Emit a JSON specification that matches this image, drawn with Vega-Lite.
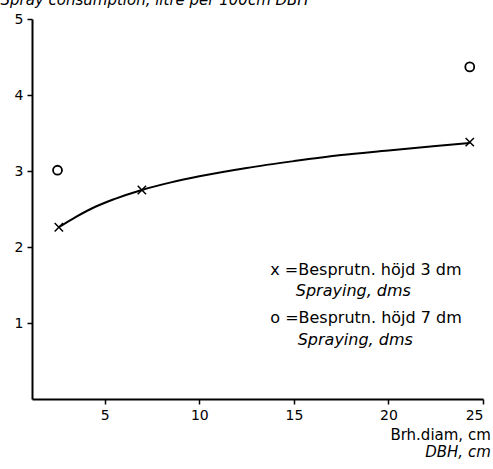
{
  "$schema": "https://vega.github.io/schema/vega-lite/v6.json",
  "width": 451,
  "height": 380,
  "autosize": "none",
  "padding": {"left": 32, "top": 19, "right": 10, "bottom": 70},
  "background": "white",
  "config": {
    "view": {"stroke": null},
    "font": "DejaVu Sans",
    "axis": {"domainColor": "black", "domainWidth": 2, "tickColor": "black", "tickWidth": 1.5, "labelColor": "black", "labelFontSize": 14, "labelFont": "DejaVu Sans", "grid": false}
  },
  "title": {
    "text": "Brh.diam, cm",
    "subtitle": "DBH, cm",
    "orient": "bottom",
    "anchor": "end",
    "dx": 7,
    "offset": 6,
    "fontSize": 15,
    "fontWeight": "normal",
    "color": "black",
    "subtitleFontSize": 15,
    "subtitleFontStyle": "italic",
    "subtitleColor": "black",
    "subtitlePadding": 2
  },
  "datasets": {
    "points": [
      {"dbh": 2.57, "consumption": 2.26, "height": "3 dm"},
      {"dbh": 6.96, "consumption": 2.75, "height": "3 dm"},
      {"dbh": 24.3, "consumption": 3.38, "height": "3 dm"},
      {"dbh": 2.5, "consumption": 3.01, "height": "7 dm"},
      {"dbh": 24.3, "consumption": 4.37, "height": "7 dm"}
    ],
    "curve": [
      {"dbh": 2.57, "consumption": 2.26},
      {"dbh": 3.5, "consumption": 2.4},
      {"dbh": 4.5, "consumption": 2.53},
      {"dbh": 5.5, "consumption": 2.63},
      {"dbh": 6.96, "consumption": 2.75},
      {"dbh": 8.5, "consumption": 2.85},
      {"dbh": 10, "consumption": 2.93},
      {"dbh": 12.5, "consumption": 3.04},
      {"dbh": 15, "consumption": 3.13},
      {"dbh": 17.5, "consumption": 3.21},
      {"dbh": 20, "consumption": 3.27},
      {"dbh": 22.5, "consumption": 3.33},
      {"dbh": 24.3, "consumption": 3.37}
    ],
    "legendMain": [
      {"dbh": 13.75, "consumption": 1.7, "label": "x =Besprutn. höjd  3 dm"},
      {"dbh": 13.75, "consumption": 1.07, "label": "o =Besprutn. höjd  7 dm"}
    ],
    "legendSub": [
      {"dbh": 15.1, "consumption": 1.42, "label": "Spraying,  dms"},
      {"dbh": 15.2, "consumption": 0.78, "label": "Spraying,  dms"}
    ]
  },
  "encoding": {
    "x": {
      "field": "dbh", "type": "quantitative",
      "scale": {"domain": [1.15, 25], "nice": false, "zero": false},
      "axis": {"values": [5, 10, 15, 20, 25], "title": null, "tickSize": 5, "labelPadding": 4}
    },
    "y": {
      "field": "consumption", "type": "quantitative",
      "scale": {"domain": [0, 5], "nice": false},
      "axis": {
        "values": [1, 2, 3, 4, 5], "tickSize": 5, "labelPadding": 4,
        "title": "Spray consumption, litre per 100cm DBH",
        "titleAngle": 0, "titleAlign": "left", "titleBaseline": "alphabetic",
        "titleX": -32, "titleY": -15, "titleFontSize": 15, "titleFontWeight": "normal",
        "titleFontStyle": "italic", "titleColor": "black", "titleFont": "DejaVu Sans"
      }
    }
  },
  "layer": [
    {
      "data": {"name": "curve"},
      "mark": {"type": "line", "color": "black", "strokeWidth": 2, "interpolate": "monotone"}
    },
    {
      "data": {"name": "points"},
      "transform": [{"filter": "datum.height === '3 dm'"}],
      "mark": {"type": "point", "shape": "M-1,-1L1,1M1,-1L-1,1", "size": 70, "color": "black", "strokeWidth": 1.5, "opacity": 1}
    },
    {
      "data": {"name": "points"},
      "transform": [{"filter": "datum.height === '7 dm'"}],
      "mark": {"type": "point", "shape": "circle", "size": 80, "color": "black", "filled": false, "strokeWidth": 1.8, "opacity": 1}
    },
    {
      "data": {"name": "legendMain"},
      "mark": {"type": "text", "align": "left", "baseline": "middle", "fontSize": 16, "color": "black", "font": "DejaVu Sans"},
      "encoding": {"text": {"field": "label"}}
    },
    {
      "data": {"name": "legendSub"},
      "mark": {"type": "text", "align": "left", "baseline": "middle", "fontSize": 16, "fontStyle": "italic", "color": "black", "font": "DejaVu Sans"},
      "encoding": {"text": {"field": "label"}}
    }
  ]
}
